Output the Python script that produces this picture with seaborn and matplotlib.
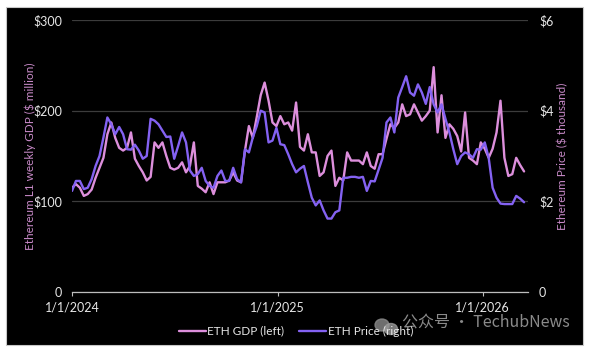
import numpy as np
import pandas as pd
import matplotlib
matplotlib.use("Agg")
import matplotlib.pyplot as plt
from matplotlib.patches import Rectangle, Ellipse
import seaborn as sns

# weekly values (week 0 = 1/1/2024)
gdp_musd = [115, 119, 115, 106, 108, 113, 126, 137, 148, 174,
            187, 170, 159, 156, 159, 176, 147, 139, 132, 123,
            127, 165, 159, 165, 150, 137, 135, 137, 143, 132,
            139, 165, 117, 114, 110, 121, 108, 121, 121, 121,
            123, 132, 123, 121, 156, 183, 170, 193, 217, 231,
            211, 187, 183, 194, 185, 187, 178, 209, 160, 156,
            174, 154, 154, 128, 132, 150, 156, 117, 126, 123,
            154, 145, 145, 145, 141, 154, 139, 136, 152, 152,
            169, 185, 181, 187, 207, 194, 196, 207, 198, 189,
            194, 200, 248, 176, 217, 170, 185, 180, 172, 155,
            198, 148, 145, 141, 165, 158, 148, 158, 176, 211,
            148, 128, 130, 148, 140, 133]
# ETH price in $ thousand
eth_price_k = [2.23, 2.45, 2.45, 2.27, 2.30, 2.49, 2.78, 3.00, 3.41, 3.85,
               3.70, 3.48, 3.64, 3.48, 3.15, 3.14, 3.25, 3.12, 2.94, 3.00,
               3.82, 3.78, 3.70, 3.56, 3.42, 3.43, 2.94, 3.22, 3.52, 3.30,
               2.68, 2.56, 2.60, 2.74, 2.45, 2.34, 2.30, 2.56, 2.68, 2.45,
               2.45, 2.74, 2.49, 2.42, 3.15, 3.08, 3.41, 3.66, 4.00, 3.96,
               3.30, 3.34, 3.62, 3.26, 3.24, 3.04, 2.82, 2.64, 2.72, 2.78,
               2.42, 2.08, 1.91, 2.02, 1.80, 1.62, 1.62, 1.76, 1.80, 2.52,
               2.52, 2.54, 2.54, 2.52, 2.54, 2.23, 2.45, 2.44, 2.70, 2.96,
               3.74, 3.85, 3.52, 4.29, 4.52, 4.76, 4.40, 4.33, 4.58, 4.40,
               4.15, 4.52, 4.14, 3.96, 4.14, 3.82, 3.52, 3.15, 2.82, 3.00,
               3.08, 3.04, 2.96, 3.15, 3.14, 3.30, 2.96, 2.30, 2.08, 1.95,
               1.94, 1.94, 1.94, 2.12, 2.06, 1.98]

weeks = pd.date_range("2024-01-01", periods=len(gdp_musd), freq="7D")
df = pd.DataFrame({"week": weeks, "gdp": gdp_musd, "price": eth_price_k})

left_ticks = [0, 100, 200, 300]
left_labels = ["0", "$100", "$200", "$300"]
right_ticks = [0, 2, 4, 6]
right_labels = ["0", "$2", "$4", "$6"]
year_ticks = pd.to_datetime(["2024-01-01", "2025-01-01", "2026-01-01"])
year_labels = ["1/1/2024", "1/1/2025", "1/1/2026"]

pink = "#dd8fdc"
purple = "#8462f2"
label_col = "#c88ac8"
txt = "#e6e6e6"

sns.set_theme(style="dark")
plt.rcParams["font.family"] = ["Lato", "Noto Sans CJK SC", "DejaVu Sans"]

fig = plt.figure(figsize=(6.0, 3.53), dpi=100)
fig.patch.set_facecolor("white")
fig.patches.append(Rectangle((6 / 600, 8 / 353), 577 / 600, 338 / 353,
                             transform=fig.transFigure, facecolor="black",
                             edgecolor="#c8c8c8", lw=0.8, zorder=-10))

ax = fig.add_axes([0.12, 0.1728, 0.76, 0.7705])
ax.set_facecolor("black")
ax2 = ax.twinx()

sns.lineplot(data=df, x="week", y="gdp", ax=ax, color=pink, lw=1.7,
             label="ETH GDP (left)", legend=False)
sns.lineplot(data=df, x="week", y="price", ax=ax2, color=purple, lw=1.7,
             label="ETH Price (right)", legend=False)

ax.set_xlim(pd.Timestamp("2024-01-01"), pd.Timestamp("2026-03-23"))
ax.set_ylim(0, 300)
ax2.set_ylim(0, 6)

ax.set_yticks(left_ticks)
ax.set_yticklabels(left_labels)
ax2.set_yticks(right_ticks)
ax2.set_yticklabels(right_labels)
ax.set_xticks(year_ticks)
ax.set_xticklabels(year_labels)

ax.grid(axis="y", color="#3c3c3c", lw=0.9)
ax.grid(axis="x", visible=False)
ax2.grid(False)

for a in (ax, ax2):
    for s in a.spines.values():
        s.set_visible(False)
ax.spines["bottom"].set_visible(True)
ax.spines["bottom"].set_color("#bdbdbd")
ax.spines["bottom"].set_linewidth(0.9)

ax.tick_params(axis="y", length=0, pad=7, labelsize=9, labelcolor=txt)
ax2.tick_params(axis="y", length=0, pad=8, labelsize=9, labelcolor=txt)
ax.tick_params(axis="x", bottom=True, direction="out", length=3, width=0.8,
               color="#bdbdbd", pad=4, labelsize=9, labelcolor=txt)

ax.set_xlabel("")
ax.set_ylabel("Ethereum L1 weekly GDP ($ million)", color=label_col, fontsize=8.5)
ax2.set_ylabel("Ethereum Price ($ thousand)", color=label_col, fontsize=8.5)
ax.yaxis.label.set_va("center")
ax2.yaxis.label.set_va("center")
ax.yaxis.set_label_coords(-42 / 456, 0.5)
ax2.yaxis.set_label_coords(491 / 456, 0.5)

handles = ax.get_lines()[:1] + ax2.get_lines()[:1]
leg = fig.legend(handles, ["ETH GDP (left)", "ETH Price (right)"], ncol=2,
                 loc="center", bbox_to_anchor=(0.493, 0.062), frameon=False,
                 fontsize=8.5, handlelength=2.3, handletextpad=0.1,
                 columnspacing=1.3)
for t in leg.get_texts():
    t.set_color(txt)

# watermark
fig.patches.append(Ellipse((382 / 600, 28 / 353), 14 / 600, 12 / 353,
                           transform=fig.transFigure, color="#8a8a8a", alpha=0.8))
fig.patches.append(Ellipse((391 / 600, 24 / 353), 13 / 600, 11 / 353,
                           transform=fig.transFigure, color="#9a9a9a", alpha=0.8))
fig.text(402 / 600, 30 / 353, "公众号 · TechubNews", color="#9a9a9a",
         fontsize=11.5, ha="left", va="center",
         family=["Noto Sans CJK SC", "DejaVu Sans"], alpha=0.9)

fig.savefig("out.png", dpi=100, facecolor="white")
